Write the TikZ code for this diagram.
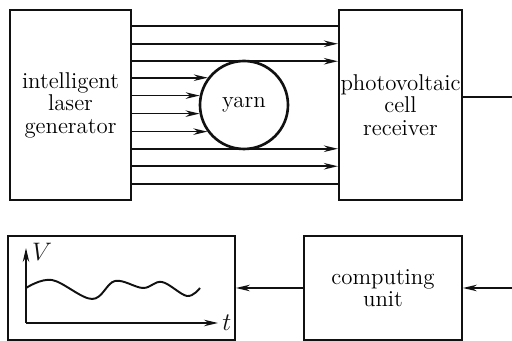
\documentclass[tikz,border=0pt]{standalone}
\usepackage{amsmath, amssymb}
\usepackage{tikz}
\usetikzlibrary{arrows.meta, positioning, calc}
\definecolor{mInk}{HTML}{111111}
\tikzset{
  blockbox/.style={draw=mInk, line width=1pt, minimum width=2.42cm, minimum height=3.8cm,
                   inner sep=1pt, align=center, font=\fontsize{13}{12.8}\selectfont},
  lowbox/.style={draw=mInk, line width=1pt, minimum height=2.08cm, inner sep=1pt,
                 align=center, font=\fontsize{13}{12.8}\selectfont},
  yarnnode/.style={draw=mInk, circle, line width=1.5pt, minimum size=1.76cm,
                   inner sep=0pt, font=\fontsize{13}{12.8}\selectfont},
  ray/.style={mInk, line width=0.9pt, -{Stealth[length=2.8mm, width=1.3mm]}},
  beam/.style={mInk, line width=0.9pt},
}

\begin{document}
\begin{tikzpicture}
    \useasboundingbox (0,0) rectangle (10.24,6.82);
    % top row
    \node[blockbox] (gen) at (1.41,4.72) {intelligent\\laser\\generator};
    \node[blockbox, minimum width=2.46cm] (rec) at (8.01,4.72) {photovoltaic\\cell\\receiver};
    \node[yarnnode] (yarn) at (4.88,4.72) {yarn};
    % beams
    \foreach \d in {1.575,-1.575}
      \draw[beam] ([yshift=\d cm]gen.east) -- ([yshift=\d cm]rec.west);
    \foreach \d in {1.225,0.875,-0.875,-1.225}
      \draw[ray] ([yshift=\d cm]gen.east) -- ([yshift=\d cm]rec.west);
    \foreach \a in {143.4,168.5,191.5,216.6}
      \draw[ray] (gen.east |- yarn.\a) -- (yarn.\a);
    % bottom row
    \node[lowbox, minimum width=3.16cm] (comp) at (7.66,1.06) {computing\\unit};
    \node[lowbox, minimum width=4.54cm] (scope) at (2.43,1.06) {};
    \coordinate (out) at (10.24,4.88);
    \coordinate (in) at (10.24,1.06);
    \draw[beam] ([yshift=0.16cm]rec.east) -- (out);
    \draw[ray] (in) -- (comp.east);
    \draw[ray] (comp.west) -- (scope.east);
    % signal
    \coordinate (o) at (0.52,0.36);
    \draw[ray] (o) -- (0.52,1.86) node[right, inner sep=3pt, yshift=-2pt, font=\fontsize{14}{14}\selectfont] (vlab) {$V$};
    \draw[ray] (o) -- (4.36,0.36) node[right, inner sep=2pt, font=\fontsize{14}{14}\selectfont] (tlab) {$t$};
    \draw[beam, line width=1.1pt] plot[smooth, tension=0.6] coordinates {(0.52,1.06) (1.04,1.22) (1.84,0.84)
      (2.30,1.20) (2.86,1.06) (3.24,1.18) (3.74,0.90) (4.0,1.06)};
  \end{tikzpicture}
\end{document}
